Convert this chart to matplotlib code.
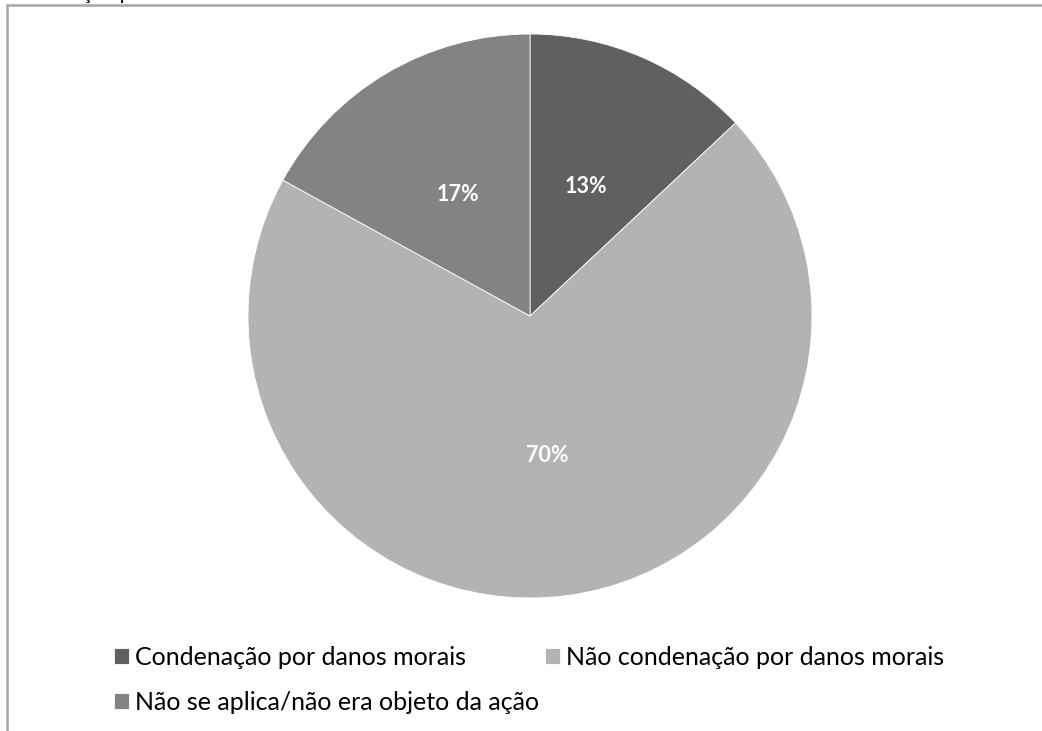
import matplotlib.pyplot as plt
from matplotlib.patches import Rectangle

# dados do gráfico
labels = ["Condenação por danos morais",
          "Não condenação por danos morais",
          "Não se aplica/não era objeto da ação"]
valores = [13, 70, 17]
cores = ["#606060", "#b3b3b3", "#838383"]

plt.rcParams['font.family'] = ['Lato', 'DejaVu Sans']

W, H = 1042, 731
fig = plt.figure(figsize=(W / 100, H / 100), dpi=100)
fig.patch.set_facecolor("white")

# moldura do gráfico (cortada à direita e embaixo)
fig.add_artist(Rectangle((7 / W, -0.2), 1.2, 1.2 - 5 / H, transform=fig.transFigure,
                         fill=False, edgecolor="#a6a6a6", linewidth=1.8))

# título cortado no topo
fig.text(0.0, 1 + 1 / H, "Condenação por danos morais sob o tema Subsetor Móvel",
         fontsize=15, va="baseline", ha="left", color="black")

cx, cy, r = 530, 316, 282
ax = fig.add_axes([(cx - r) / W, (H - cy - r) / H, 2 * r / W, 2 * r / H])
wedges, texts, autotexts = ax.pie(valores, colors=cores, startangle=90, counterclock=False,
                                  autopct="%1.0f%%", pctdistance=0.5,
                                  wedgeprops=dict(linewidth=0.6, edgecolor="white"),
                                  textprops=dict(color="white", fontsize=15.5, fontweight="bold"))
ax.set_xlim(-1, 1)
ax.set_ylim(-1, 1)
ax.set_aspect("equal")
ax.axis("off")

# legenda: primeira linha com 2 itens, segunda com 1
estilo = dict(frameon=False, loc="upper left", fontsize=18, handlelength=0.6,
              handleheight=0.6, handletextpad=0.25, borderaxespad=0)
leg1 = fig.legend(wedges[:2], labels[:2], ncol=2, columnspacing=3.15,
                  bbox_to_anchor=(104 / W, 1 - 636 / H), **estilo)
leg2 = fig.legend(wedges[2:], labels[2:], ncol=1,
                  bbox_to_anchor=(104 / W, 1 - 681 / H), **estilo)

fig.savefig("out.png", dpi=100)
